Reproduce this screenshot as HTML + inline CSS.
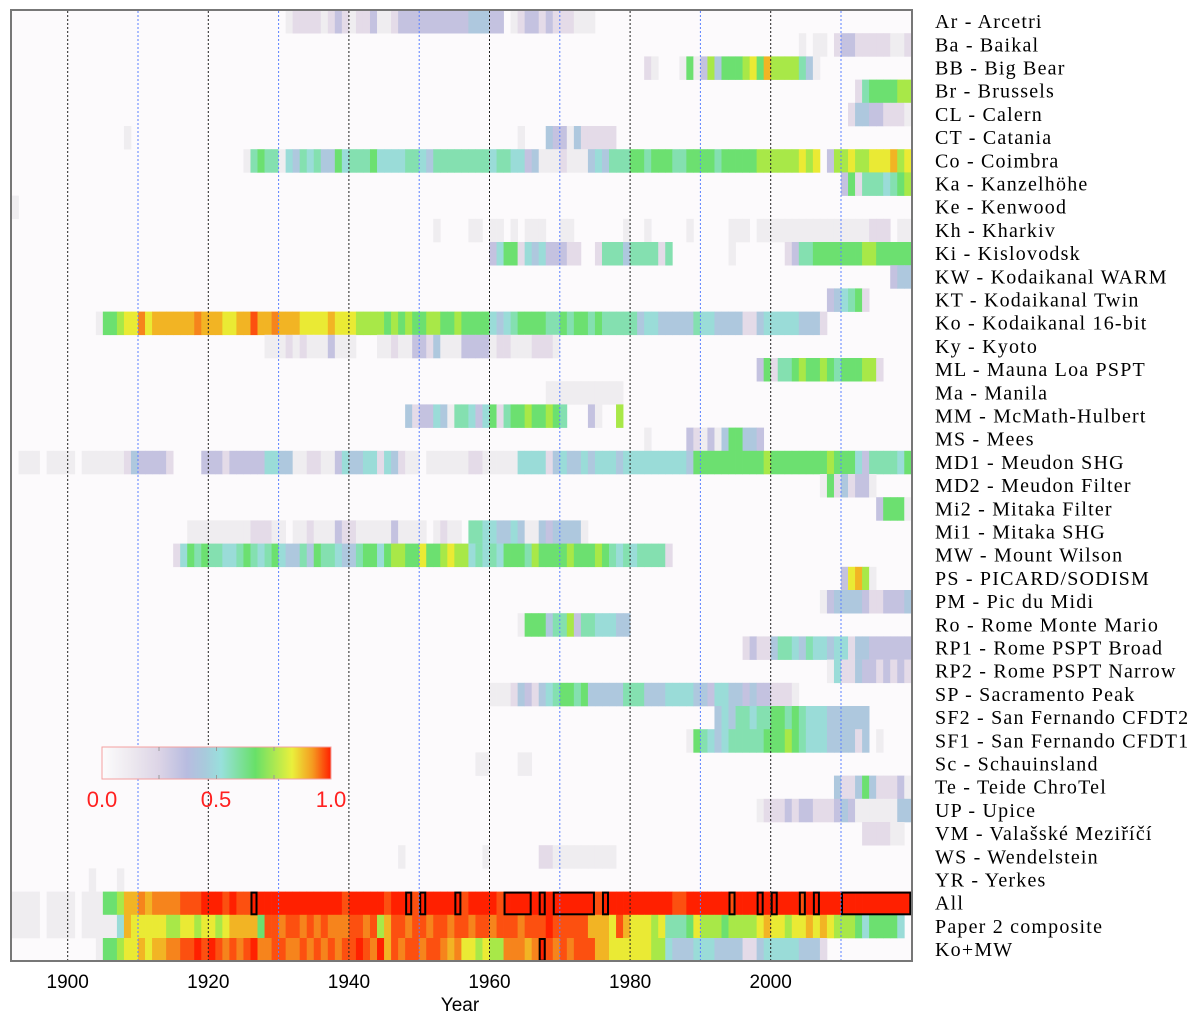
<!DOCTYPE html>
<html><head><meta charset="utf-8"><style>
html,body{margin:0;padding:0;background:#fff;}
svg{display:block;}
</style></head><body>
<svg id="chart" width="1200" height="1022" viewBox="0 0 1200 1022" xmlns="http://www.w3.org/2000/svg">
<rect x="0" y="0" width="1200" height="1022" fill="#ffffff"/>
<g id="cells"></g>
<g id="boxes"></g>
<g id="grid"></g>
<rect x="11" y="10" width="901" height="951" fill="none" stroke="#777" stroke-width="2"/>
<g id="labels" font-family="'Liberation Serif', serif" font-size="20" letter-spacing="1.2" fill="#000"></g>
<g id="xticks" font-family="'Liberation Sans', sans-serif" font-size="19" fill="#000" text-anchor="middle"></g>
<text x="460" y="1011" font-family="'Liberation Sans', sans-serif" font-size="19" text-anchor="middle">Year</text>
<defs>
<linearGradient id="cbg" x1="0" x2="1" y1="0" y2="0">
<stop offset="0" stop-color="#fcfcfc"/>
<stop offset="0.12" stop-color="#eeeaf0"/>
<stop offset="0.25" stop-color="#dcd4e6"/>
<stop offset="0.37" stop-color="#b8bce0"/>
<stop offset="0.45" stop-color="#a8cadc"/>
<stop offset="0.52" stop-color="#98e0dc"/>
<stop offset="0.67" stop-color="#68e068"/>
<stop offset="0.83" stop-color="#eaf03c"/>
<stop offset="0.92" stop-color="#f59a20"/>
<stop offset="1" stop-color="#ff2000"/>
</linearGradient>
</defs>
<g>
<rect x="102" y="747" width="229" height="32" fill="url(#cbg)" stroke="#f4a0a0" stroke-width="1"/>
<g stroke="#999" stroke-width="1">
<line x1="159" y1="747" x2="159" y2="751"/><line x1="216.5" y1="747" x2="216.5" y2="751"/><line x1="274" y1="747" x2="274" y2="751"/>
<line x1="159" y1="775" x2="159" y2="779"/><line x1="216.5" y1="775" x2="216.5" y2="779"/><line x1="274" y1="775" x2="274" y2="779"/>
</g>
<g font-family="'Liberation Sans', sans-serif" font-size="22" fill="#ff2020" text-anchor="middle">
<text x="102" y="807">0.0</text>
<text x="216" y="807">0.5</text>
<text x="331" y="807">1.0</text>
</g>
</g>
</svg>
<script>
const rowLabels = ["Ar - Arcetri","Ba - Baikal","BB - Big Bear","Br - Brussels","CL - Calern","CT - Catania","Co - Coimbra","Ka - Kanzelhöhe","Ke - Kenwood","Kh - Kharkiv","Ki - Kislovodsk","KW - Kodaikanal WARM","KT - Kodaikanal Twin","Ko - Kodaikanal 16-bit","Ky - Kyoto","ML - Mauna Loa PSPT","Ma - Manila","MM - McMath-Hulbert","MS - Mees","MD1 - Meudon SHG","MD2 - Meudon Filter","Mi2 - Mitaka Filter","Mi1 - Mitaka SHG","MW - Mount Wilson","PS - PICARD/SODISM","PM - Pic du Midi","Ro - Rome Monte Mario","RP1 - Rome PSPT Broad","RP2 - Rome PSPT Narrow","SP - Sacramento Peak","SF2 - San Fernando CFDT2","SF1 - San Fernando CFDT1","Sc - Schauinsland","Te - Teide ChroTel","UP - Upice","VM - Valašské Meziříčí","WS - Wendelstein","YR - Yerkes","All","Paper 2 composite","Ko+MW"];
// value codes per year: '.' = no data, '0'..'9','a','b','c' = level/12
const rowSegments = [
 [[1931,"0111101210"+"1120012222"+"2222223332"+"2.01221211"+"1000"]],
 [[2004,"0.00.12211111001"]],
 [[1982,"10...06027366678697777530"]],
 [[2012,"15666677"]],
 [[2011,"133221110"]],
 [[1908,"0"],[1964,"0...3220311111"]],
 [[1925,"0565504354"+"5336455564"+"4445543555"+"5555545544"+"2300010003"+"4355566566"+"6556666566"+"6667777778"+"78.2778778"+"88978"]],
 [[2010,"2615554567"]],
 [[1892,"0"]],
 [[1952,"0"+"...."+"00"+"."+"00"+"."+"0"+"."+"000"+".."+"00"+"......."+"0"+".."+"0"+"....."+"0"+"....."+"000"+"."+"0000000000000000"+"111"+"."+"00"]],
 [[1960,"2466143422"+"211..15553"+"555515...."+"....0....."+"..12556666"+"6667766666"]],
 [[2017,"233"]],
 [[2008,"234561"]],
 [[1904,"066788a899"+"9999a99988"+"99b99a9998"+"8889888777"+"7676766776"+"6766664345"+"6666556566"+"5655555344"+"3333354433"+"3311344444"+"3331"]],
 [[1928,"0001010002"+"000...0010"+"0221300022"+"220110001110"]],
 [[1998,"261556766765666771"]],
 [[1968,"00000000000"]],
 [[1948,"31224305"+"5424"+"61"+"566766765"+"..."+"20"+".."+"7"]],
 [[1982,"0.....21020366332"]],
 [[1893,"000.0000.0"+"0000013222"+"21....2221"+"2222244330"+"0110024334"+"4143100.00"+"0000110000"+"0444413433"+"4344434444"+"4444436666"+"6666667666"+"6666676664"+"2555546"]],
 [[2007,"06131220"]],
 [[2015,"26660"]],
 [[1917,"0000000001"+"1100.00100"+"0211000002"+"0000.0100."+"5544334300"+"3233330"]],
 [[1915,"1465655445"+"6545643353"+"6554335664"+"6776686678"+"7745454666"+"5766667666"+"76545455551"]],
 [[2010,"28970"]],
 [[2007,"0233332112223"]],
 [[1964,"0666355725544433"]],
 [[1996,"121135543544344133222222"]],
 [[2008,"041132212121"]],
 [[1960,"0001321345"+"6656333335"+"5533344443"+"3244332322"+"1110"]],
 [[1992,"3435545566565444333333"]],
 [[1988,"06543455555"+"6667654443333"+"13.0"]],
 [[1958,"00....00"]],
 [[2009,"31136311120"]],
 [[1998,"0111212211123200000033"]],
 [[2013,"111100"]],
 [[1947,"0"],[1959,"0.......11000000000"]],
 [[1903,"0...0"]],
 [[1892,"0000.0000."+"00066799a9"+"aaaabbbccc"+"bcbbcccccc"+"cccccccbcc"+"cccbcccbcc"+"ccccbccccb"+"cccccccccc"+"cccbcccccc"+"ccccbbcccc"+"ccbccccccc"+"ccbccccccc"+"cccccccc"]],
 [[1892,"0000.0000."+"0000049888"+"8877887887"+"899996bbab"+"bababaaabb"+"ab79bbabba"+"bbabbabbab"+"bbabbbcbbb"+"bb9998b988"+"8785556877"+"7677778988"+"7889898777"+"6466664"]],
 [[1904,"0667889899"+"aabbcbcbab"+"abcaabbaab"+"abababbcba"+"c9babbabba"+"9a887877aa"+"a9acbababb"+"b998888887"+"7433344433"+"3311344444"+"3331"]]
];
const allBoxStarts = [1926,1948,1950,1955,1962,1967,1969,1976,1994,1998,2000,2004,2006,2010];
const allBoxLengths = [1,1,1,1,4,1,6,1,1,1,1,1,1,10];
const komwBoxStarts = [1967];
const komwBoxLengths = [1];
const tickYears = [1900,1920,1940,1960,1980,2000];
const blackGridYears = [1900,1920,1940,1960,1980,2000];
const blueGridYears = [1910,1930,1950,1970,1990,2010];

const NS = "http://www.w3.org/2000/svg";
const levelColors = ["#efedf0","#e4dbe8","#c4c2e0","#aec8de","#9adcd8","#84e0b0","#6ce070","#a8e848","#eaea34","#f2b424","#f6841c","#fc5010","#ff2000"];
const plotTop = 10, rowH = 23.2, plotBottom = 961;
function xOf(y){ return 67.7 + (y - 1900) * 7.03; }
function yOf(i){ return plotTop + i * rowH; }
function colorOf(v){ return levelColors[Math.max(0, Math.min(12, Math.round(v * 12)))]; }
function mk(tag, attrs){ const e = document.createElementNS(NS, tag); for (const k in attrs) e.setAttribute(k, attrs[k]); return e; }

const cells = document.getElementById('cells');
const bg = mk('rect', {x: 11, y: 10, width: 901, height: 951, fill: '#fcfafc'});


cells.appendChild(bg);
rowSegments.forEach((segs, i) => {
  segs.forEach(([start, code]) => {
    for (let k = 0; k < code.length; k++) {
      const ch = code[k];
      if (ch === '.' || ch === ' ') continue;
      const v = parseInt(ch, 16) / 12;
      const yr = start + k;
      const r = mk('rect', {x: xOf(yr).toFixed(2), y: yOf(i).toFixed(2), width: 7.4, height: (rowH + 0.3).toFixed(2), fill: colorOf(v)});
      
      
      cells.appendChild(r);
    }
  });
});

const boxes = document.getElementById('boxes');
function drawBoxes(starts, lens, row){
  starts.forEach((s, j) => {
    const b = mk('rect', {x: xOf(s) + 1, y: yOf(row) + 1, width: lens[j] * 7.03 - 2, height: rowH - 1.5, fill: 'none', stroke: '#000', 'stroke-width': 2});
    
    
    boxes.appendChild(b);
  });
}
drawBoxes(allBoxStarts, allBoxLengths, 38);
drawBoxes(komwBoxStarts, komwBoxLengths, 40);

const grid = document.getElementById('grid');
blackGridYears.forEach(y => {
  const l = mk('line', {x1: xOf(y), x2: xOf(y), y1: 11, y2: plotBottom, stroke: '#222', 'stroke-width': 1, 'stroke-dasharray': '2,2'});
  
  
  grid.appendChild(l);
});
blueGridYears.forEach(y => {
  const l = mk('line', {x1: xOf(y), x2: xOf(y), y1: 11, y2: plotBottom, stroke: '#5a80ff', 'stroke-width': 1, 'stroke-dasharray': '2,2'});
  
  
  grid.appendChild(l);
});

const labels = document.getElementById('labels');
rowLabels.forEach((t, i) => {
  const e = mk('text', {x: 935, y: (yOf(i) + rowH / 2 + 6.5).toFixed(1)});
  e.textContent = t;
  
  
  labels.appendChild(e);
});

const xt = document.getElementById('xticks');
tickYears.forEach(y => {
  const e = mk('text', {x: xOf(y), y: 988});
  e.textContent = String(y);
  
  
  xt.appendChild(e);
});
</script>
</body></html>
